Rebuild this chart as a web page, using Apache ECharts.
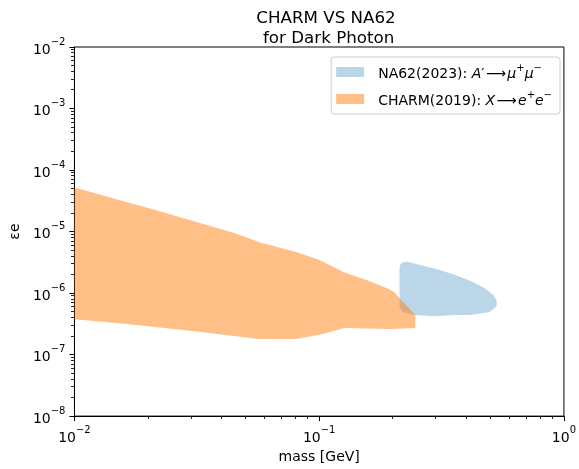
<!DOCTYPE html>
<html>
<head>
<meta charset="utf-8">
<script src="https://cdn.jsdelivr.net/npm/echarts@6/dist/echarts.min.js"></script>
<style>
  html, body { margin: 0; padding: 0; background: #fff; }
  #chart { width: 579px; height: 469px; }
</style>
</head>
<body>
<div id="chart"></div>
<script>
// Excluded regions in the (mass, εe) plane, as closed outlines [mass GeV, εe].
const na62Outline = [
  [0.213, 5.9e-7], [0.213, 2.6e-6], [0.215, 2.95e-6], [0.219, 3.15e-6],
  [0.229, 3.22e-6], [0.259, 2.85e-6], [0.303, 2.45e-6], [0.356, 2.0e-6],
  [0.412, 1.6e-6], [0.470, 1.23e-6], [0.516, 9.2e-7], [0.531, 7.6e-7],
  [0.531, 6.1e-7], [0.497, 4.9e-7], [0.412, 4.4e-7], [0.356, 4.4e-7],
  [0.295, 4.2e-7], [0.245, 4.4e-7], [0.219, 4.9e-7]
];
const charmUpper = [
  [0.0100, 5.2e-5], [0.0223, 2.14e-5], [0.0449, 9.5e-6], [0.0582, 6.5e-6],
  [0.0800, 4.7e-6], [0.0991, 3.5e-6], [0.127, 2.15e-6], [0.158, 1.6e-6],
  [0.190, 1.19e-6], [0.203, 1.03e-6], [0.215, 7.9e-7], [0.247, 4.4e-7]
];
const charmLower = [
  [0.247, 2.7e-7], [0.195, 2.6e-7], [0.127, 2.7e-7], [0.0991, 2.08e-7],
  [0.0800, 1.8e-7], [0.0566, 1.8e-7], [0.0304, 2.42e-7], [0.0164, 3.13e-7],
  [0.0100, 3.77e-7]
];
const charmOutline = charmUpper.concat(charmLower);

const X_MIN = 0.01, X_MAX = 1;
const Y_MIN = 1e-8, Y_MAX = 1e-2;

// Minor tick values 2..9 × 10^e for each decade of an axis.
function minorValues(lo, hi) {
  const out = [];
  for (let e = lo; e < hi; e++) {
    for (let k = 2; k <= 9; k++) out.push(k * Math.pow(10, e));
  }
  return out;
}
const xMinor = minorValues(-2, 0);
const yMinor = minorValues(-8, -2);

const FONT = 'DejaVu Sans';

function powLabel(v) {
  const e = Math.round(Math.log10(v));
  const s = e < 0 ? '\u2212' + (-e) : String(e);
  return '{b|10}{s|' + s + '}';
}
const powRich = {
  b: { fontSize: 14, fontFamily: FONT, color: '#000', lineHeight: 20, verticalAlign: 'bottom' },
  s: { fontSize: 10, fontFamily: FONT, color: '#000', lineHeight: 20, verticalAlign: 'top' }
};

function polygonSeries(name, pts, color, z) {
  return {
    type: 'custom',
    name: name,
    coordinateSystem: 'cartesian2d',
    data: pts,
    encode: { x: 0, y: 1 },
    itemStyle: { color: color },
    clip: true,
    z: z,
    renderItem: function (params, api) {
      if (params.dataIndex !== 0) return null;
      return {
        type: 'polygon',
        shape: { points: pts.map(p => api.coord(p)) },
        style: { fill: color },
        silent: true
      };
    }
  };
}

const chart = echarts.init(document.getElementById('chart'), null, { renderer: 'canvas' });
chart.setOption({
  animation: false,
  backgroundColor: '#fff',
  title: {
    text: 'CHARM VS NA62\n for Dark Photon',
    left: 321,
    textAlign: 'center',
    top: 4,
    textStyle: { fontFamily: FONT, fontSize: 16.7, fontWeight: 'normal', color: '#000', lineHeight: 19.5, align: 'center' }
  },
  grid: {
    left: 74, right: 11, top: 47, bottom: 49,
    show: true, borderColor: '#000', borderWidth: 1, backgroundColor: 'transparent'
  },
  legend: {
    orient: 'vertical',
    right: 19,
    top: 57,
    padding: [6, 8, 6, 5],
    itemGap: 9,
    itemWidth: 28,
    itemHeight: 10,
    icon: 'rect',
    borderColor: '#cccccc',
    borderWidth: 1,
    borderRadius: 3,
    backgroundColor: 'rgba(255,255,255,0.8)',
    data: ['NA62(2023)', 'CHARM(2019)'],
    formatter: function (name) {
      if (name === 'NA62(2023)') {
        return '{t|NA62(2023): }{i|A}{t|\u2032\u200a\u27f6\u200a}{i|\u03bc}{sp|+}{i|\u03bc}{sp|\u2212}';
      }
      return '{t|CHARM(2019): }{i|X}{t|\u200a\u27f6\u200a}{i|e}{sp|+}{i|e}{sp|\u2212}';
    },
    textStyle: {
      padding: [0, 0, 0, 9],
      rich: {
        t: { fontFamily: FONT, fontSize: 14, color: '#000', lineHeight: 18, verticalAlign: 'bottom' },
        i: { fontFamily: FONT, fontSize: 14, fontStyle: 'italic', color: '#000', lineHeight: 18, verticalAlign: 'bottom' },
        sp: { fontFamily: FONT, fontSize: 10, color: '#000', lineHeight: 18, verticalAlign: 'top' }
      }
    }
  },
  xAxis: {
    type: 'log', min: X_MIN, max: X_MAX,
    splitLine: { show: false },
    name: 'mass [GeV]',
    nameLocation: 'middle',
    nameGap: 33,
    nameTextStyle: { fontFamily: FONT, fontSize: 14, color: '#000' },
    axisLine: { show: true, onZero: false, lineStyle: { color: '#000', width: 1 } },
    axisTick: { show: true, length: 5, lineStyle: { color: '#000' } },
    axisLabel: { show: true, margin: 9, formatter: powLabel, rich: powRich }
  },
  yAxis: {
    type: 'log', min: Y_MIN, max: Y_MAX,
    splitLine: { show: false },
    name: '\u03b5e',
    nameLocation: 'middle',
    nameGap: 44,
    nameRotate: 90,
    nameTextStyle: { fontFamily: FONT, fontSize: 14, color: '#000' },
    axisLine: { show: true, onZero: false, lineStyle: { color: '#000', width: 1 } },
    axisTick: { show: true, length: 5, lineStyle: { color: '#000' } },
    axisLabel: { show: true, margin: 9, formatter: powLabel, rich: powRich }
  },
  series: [
    polygonSeries('NA62(2023)', na62Outline, 'rgba(31,119,180,0.3)', 2),
    polygonSeries('CHARM(2019)', charmOutline, 'rgba(255,127,14,0.5)', 3)
  ]
});

// Minor ticks (2..9 per decade), placed through the axes' own log scales,
// drawn as thin filled bars hanging outside the bottom and left axis lines.
const minorTicks = [];
const axisCorner = chart.convertToPixel({ xAxisIndex: 0, yAxisIndex: 0 }, [X_MIN, Y_MIN]);
xMinor.forEach(v => {
  const px = chart.convertToPixel({ xAxisIndex: 0 }, v);
  minorTicks.push({
    type: 'rect', silent: true, z: 50,
    shape: { x: Math.floor(px), y: Math.round(axisCorner[1]), width: 1, height: 3 },
    style: { fill: '#222' }
  });
});
yMinor.forEach(v => {
  const py = chart.convertToPixel({ yAxisIndex: 0 }, v);
  minorTicks.push({
    type: 'rect', silent: true, z: 50,
    shape: { x: Math.round(axisCorner[0]) - 3, y: Math.floor(py), width: 3, height: 1 },
    style: { fill: '#222' }
  });
});
chart.setOption({ graphic: { elements: minorTicks } });
</script>
</body>
</html>
